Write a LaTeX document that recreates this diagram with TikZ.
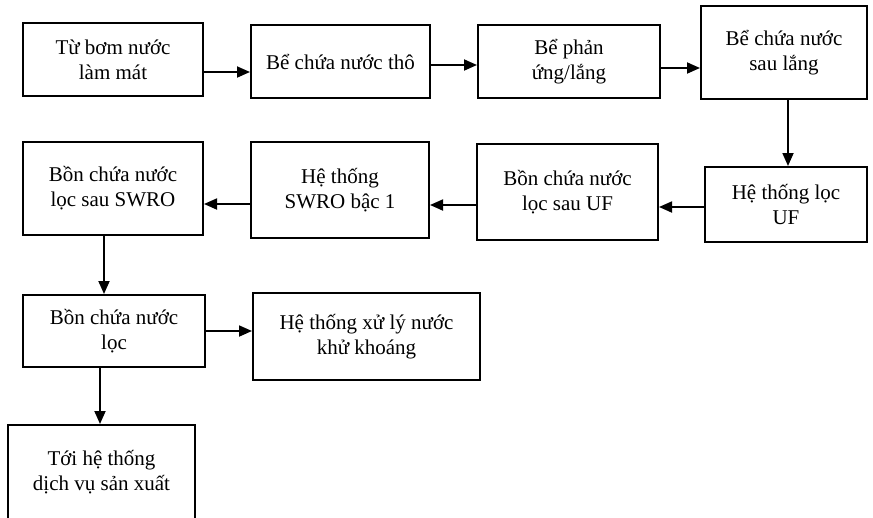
\documentclass[tikz,border=0pt]{standalone}
\usepackage{fontspec}
\setmainfont{Liberation Serif}
\usetikzlibrary{arrows.meta,calc}
\tikzset{
  box/.style={draw=black, line width=2pt, align=center, inner sep=2pt,
    font=\fontsize{21}{25}\selectfont},
  arr/.style={line width=1.8pt, -{Triangle[length=13pt,width=11pt]}},
}
\begin{document}
\begin{tikzpicture}[x=1pt,y=-1pt]
\useasboundingbox (0,0) rectangle (873,517);
\fill[white] (0,0) rectangle (873,517);
\clip (0,0) rectangle (873,517);
% row 1
\node[box, minimum width=180pt, minimum height=73pt] (A) at (113,59.5) {Từ bơm nước\\làm mát};
\node[box, minimum width=179pt, minimum height=73pt] (B) at (340.5,61.5) {Bể chứa nước thô};
\node[box, minimum width=182pt, minimum height=73pt] (C) at (569,61.5) {Bể phản\\ứng/lắng};
\node[box, minimum width=166pt, minimum height=93pt] (D) at (784,52.5) {Bể chứa nước\\sau lắng};
% row 2
\node[box, minimum width=162pt, minimum height=75pt] (E) at (786,204.5) {Hệ thống lọc\\UF};
\node[box, minimum width=181pt, minimum height=96pt] (F) at (567.5,192) {Bồn chứa nước\\lọc sau UF};
\node[box, minimum width=178pt, minimum height=96pt] (G) at (340,190) {Hệ thống\\SWRO bậc 1};
\node[box, minimum width=180pt, minimum height=93pt] (H) at (113,188.5) {Bồn chứa nước\\lọc sau SWRO};
% row 3
\node[box, minimum width=182pt, minimum height=72pt] (I) at (114,331) {Bồn chứa nước\\lọc};
\node[box, minimum width=227pt, minimum height=87pt] (J) at (366.5,336.5) {Hệ thống xử lý nước\\khử khoáng};
\node[box, minimum width=187pt, minimum height=95pt] (K) at (101.5,472.5) {Tới hệ thống\\dịch vụ sản xuất};
% connectors
\draw[arr] ([yshift=-12.5pt]A.east) -- ([yshift=-12.5pt]A.east -| B.west);
\draw[arr] ([yshift=-3.5pt]B.east) -- ([yshift=-3.5pt]B.east -| C.west);
\draw[arr] ([yshift=-6.5pt]C.east) -- ([yshift=-6.5pt]C.east -| D.west);
\draw[arr] ([xshift=4pt]D.south) -- ([xshift=4pt]D.south |- E.north);
\draw[arr] ([yshift=-2.5pt]E.west) -- ([yshift=-2.5pt]E.west -| F.east);
\draw[arr] ([yshift=-13pt]F.west) -- ([yshift=-13pt]F.west -| G.east);
\draw[arr] ([yshift=-14pt]G.west) -- ([yshift=-14pt]G.west -| H.east);
\draw[arr] ([xshift=-9pt]H.south) -- ([xshift=-9pt]H.south |- I.north);
\draw[arr] (I.east) -- (I.east -| J.west);
\draw[arr] ([xshift=-14pt]I.south) -- ([xshift=-14pt]I.south |- K.north);
\end{tikzpicture}
\end{document}
